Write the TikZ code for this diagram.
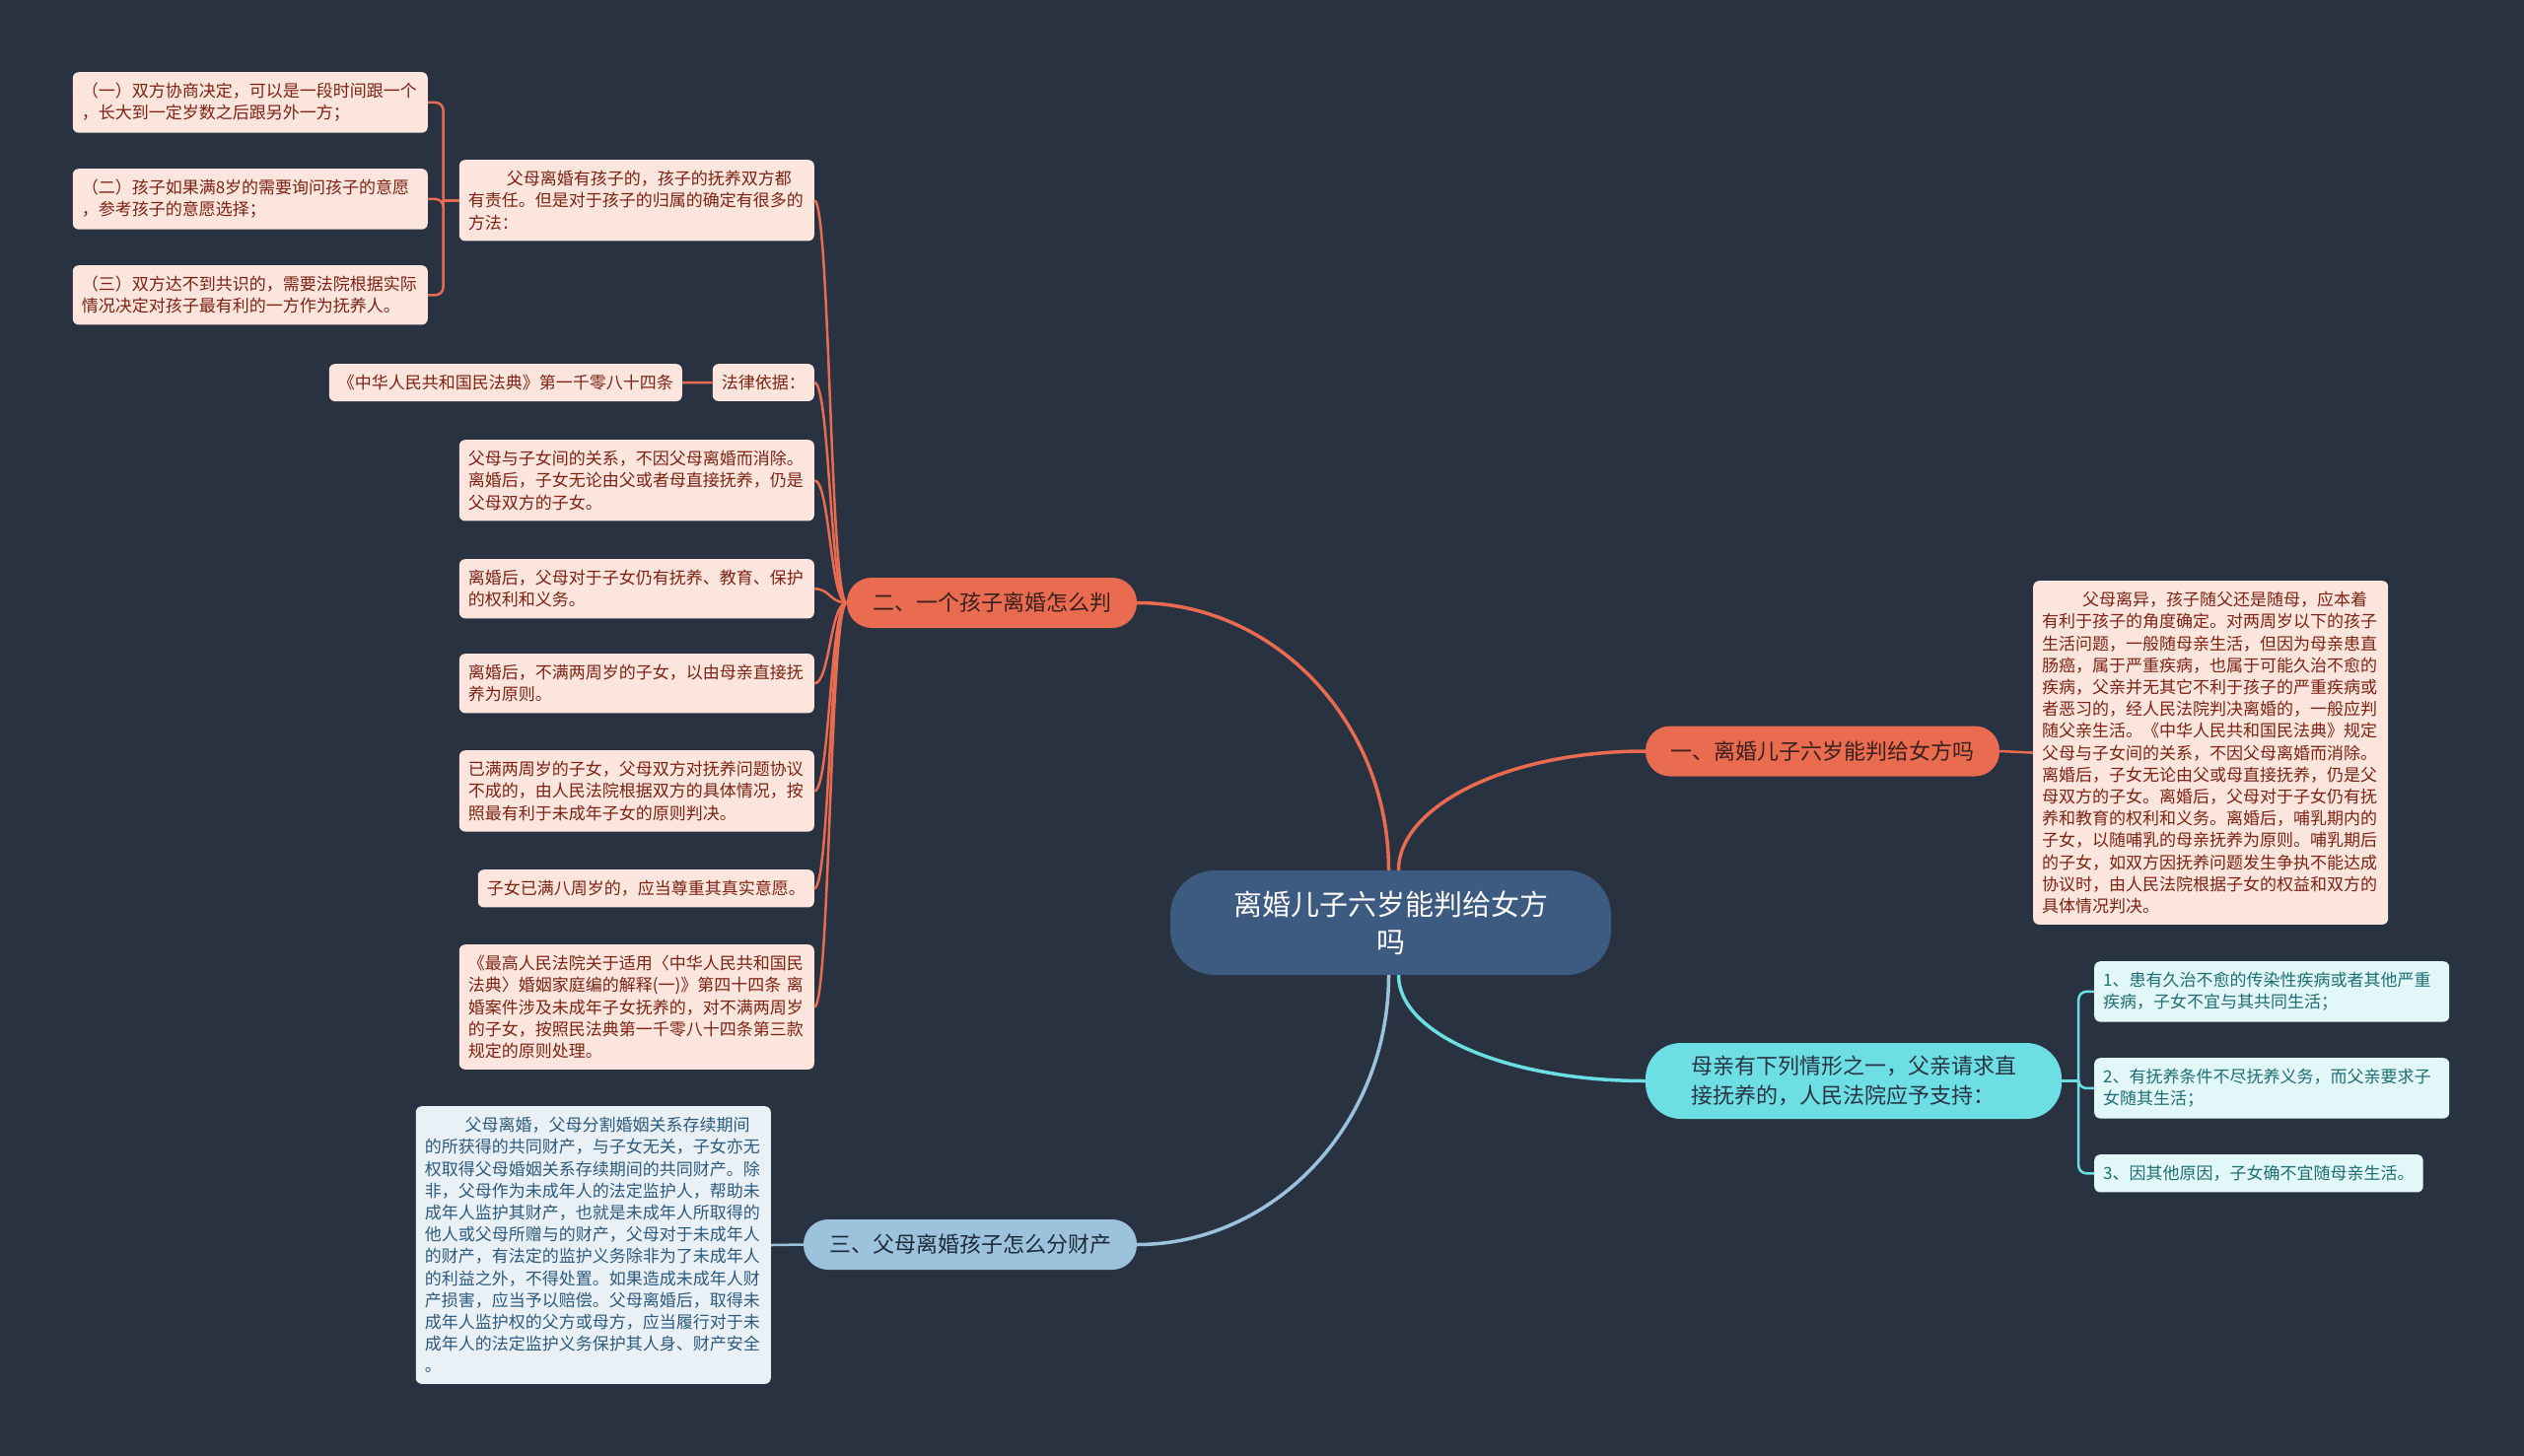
\documentclass[tikz,border=0pt]{standalone}
\usepackage{fontspec}
\setmainfont{Noto Sans CJK SC}
\definecolor{bgnavy}{RGB}{41,50,65}
\definecolor{rootblue}{RGB}{61,90,128}
\definecolor{orangeline}{RGB}{233,108,80}
\definecolor{orangetext}{RGB}{58,32,28}
\definecolor{pinkfill}{RGB}{252,229,221}
\definecolor{pinktext}{RGB}{125,35,20}
\definecolor{cyanline}{RGB}{108,222,228}
\definecolor{cyantext}{RGB}{40,52,66}
\definecolor{cyanfill}{RGB}{226,247,248}
\definecolor{tealtext}{RGB}{30,110,115}
\definecolor{blueline}{RGB}{156,195,219}
\definecolor{bluetext}{RGB}{30,42,58}
\definecolor{bluefill}{RGB}{233,241,247}
\definecolor{bluenote}{RGB}{45,90,125}

\begin{document}
\begin{tikzpicture}[x=1pt,y=-1pt,
  leaf/.style={rounded corners=6pt,inner xsep=9pt,inner ysep=11pt,align=left,font=\fontsize{17}{22.2}\selectfont},
  wide/.style={text width=342pt},
  redleaf/.style={leaf,fill=pinkfill,text=pinktext},
  cyanleaf/.style={leaf,fill=cyanfill,text=tealtext},
  blueleaf/.style={leaf,fill=bluefill,text=bluenote},
  pill/.style={rounded corners=25pt,minimum height=51pt,inner xsep=0pt,font=\fontsize{22}{28}\selectfont},
  trunk/.style={line width=3.5pt},
  twig/.style={line width=2.5pt}]
\fill[bgnavy] (0,0) rectangle (2560,1477);
\useasboundingbox (0,0) rectangle (2560,1477);

\node[fill=rootblue,text=white,rounded corners=45pt,minimum width=447pt,minimum height=106pt,align=center,font=\fontsize{29}{38}\selectfont] (root) at (1410.5,936) {离婚儿子六岁能判给女方\\吗};

\node[pill,fill=orangeline,text=orangetext,minimum width=359pt] (one) at (1848.5,762) {一、离婚儿子六岁能判给女方吗};
\node[pill,fill=orangeline,text=orangetext,minimum width=294pt] (two) at (1006,611.5) {二、一个孩子离婚怎么判};
\node[pill,fill=blueline,text=bluetext,minimum width=338pt] (three) at (984,1262.5) {三、父母离婚孩子怎么分财产};
\node[fill=cyanline,text=cyantext,rounded corners=36pt,minimum width=422pt,minimum height=77pt,align=left,font=\fontsize{22}{30}\selectfont] (mother) at (1880,1096.5) {母亲有下列情形之一，父亲请求直\\接抚养的，人民法院应予支持：};

\node[redleaf,wide,anchor=north west] (oneinfo) at (2062,589) {\hspace*{2.4em}父母离异，孩子随父还是随母，应本着\\有利于孩子的角度确定。对两周岁以下的孩子\\生活问题，一般随母亲生活，但因为母亲患直\\肠癌，属于严重疾病，也属于可能久治不愈的\\疾病，父亲并无其它不利于孩子的严重疾病或\\者恶习的，经人民法院判决离婚的，一般应判\\随父亲生活。《中华人民共和国民法典》规定\\父母与子女间的关系，不因父母离婚而消除。\\离婚后，子女无论由父或母直接抚养，仍是父\\母双方的子女。离婚后，父母对于子女仍有抚\\养和教育的权利和义务。离婚后，哺乳期内的\\子女，以随哺乳的母亲抚养为原则。哺乳期后\\的子女，如双方因抚养问题发生争执不能达成\\协议时，由人民法院根据子女的权益和双方的\\具体情况判决。};

\node[cyanleaf,wide,anchor=north west] (caseA) at (2124,975) {1、患有久治不愈的传染性疾病或者其他严重\\疾病，子女不宜与其共同生活；};
\node[cyanleaf,wide,anchor=north west] (caseB) at (2124,1073) {2、有抚养条件不尽抚养义务，而父亲要求子\\女随其生活；};
\node[cyanleaf,anchor=north west] (caseC) at (2124,1171) {3、因其他原因，子女确不宜随母亲生活。};

\node[blueleaf,wide,anchor=north east] (property) at (782,1122) {\hspace*{2.4em}父母离婚，父母分割婚姻关系存续期间\\的所获得的共同财产，与子女无关，子女亦无\\权取得父母婚姻关系存续期间的共同财产。除\\非，父母作为未成年人的法定监护人，帮助未\\成年人监护其财产，也就是未成年人所取得的\\他人或父母所赠与的财产，父母对于未成年人\\的财产，有法定的监护义务除非为了未成年人\\的利益之外，不得处置。如果造成未成年人财\\产损害，应当予以赔偿。父母离婚后，取得未\\成年人监护权的父方或母方，应当履行对于未\\成年人的法定监护义务保护其人身、财产安全\\。};

\node[redleaf,wide,anchor=north east] (ways) at (826,162) {\hspace*{2.3em}父母离婚有孩子的，孩子的抚养双方都\\有责任。但是对于孩子的归属的确定有很多的\\方法：};
\node[redleaf,wide,anchor=north east] (wayA) at (434,73) {（一）双方协商决定，可以是一段时间跟一个\\，长大到一定岁数之后跟另外一方；};
\node[redleaf,wide,anchor=north east] (wayB) at (434,171) {（二）孩子如果满8岁的需要询问孩子的意愿\\，参考孩子的意愿选择；};
\node[redleaf,wide,anchor=north east] (wayC) at (434,269) {（三）双方达不到共识的，需要法院根据实际\\情况决定对孩子最有利的一方作为抚养人。};
\node[redleaf,anchor=north east] (basis) at (826,369) {法律依据：};
\node[redleaf,anchor=north east] (code) at (692,369) {《中华人民共和国民法典》第一千零八十四条};
\node[redleaf,wide,anchor=north east] (ruleA) at (826,446) {父母与子女间的关系，不因父母离婚而消除。\\离婚后，子女无论由父或者母直接抚养，仍是\\父母双方的子女。};
\node[redleaf,wide,anchor=north east] (ruleB) at (826,567) {离婚后，父母对于子女仍有抚养、教育、保护\\的权利和义务。};
\node[redleaf,wide,anchor=north east] (ruleC) at (826,663) {离婚后，不满两周岁的子女，以由母亲直接抚\\养为原则。};
\node[redleaf,wide,anchor=north east] (ruleD) at (826,761) {已满两周岁的子女，父母双方对抚养问题协议\\不成的，由人民法院根据双方的具体情况，按\\照最有利于未成年子女的原则判决。};
\node[redleaf,anchor=north east] (ruleE) at (826,882) {子女已满八周岁的，应当尊重其真实意愿。};
\node[redleaf,wide,anchor=north east] (ruleF) at (826,958) {《最高人民法院关于适用〈中华人民共和国民\\法典〉婚姻家庭编的解释(一)》第四十四条~离\\婚案件涉及未成年子女抚养的，对不满两周岁\\的子女，按照民法典第一千零八十四条第三款\\规定的原则处理。};

\draw[trunk,orangeline] ([xshift=8pt]root.north) .. controls +(0,-65) and +(-140,0) .. (one.west);
\draw[trunk,orangeline] ([xshift=-2pt]root.north) .. controls +(0,-150) and +(140,0) .. (two.east);
\draw[trunk,cyanline] ([xshift=8pt]root.south) .. controls +(0,60) and +(-140,0) .. (mother.west);
\draw[trunk,blueline] ([xshift=-2pt]root.south) .. controls +(0,150) and +(140,0) .. (three.east);

\draw[twig,orangeline] (one.east) -- (oneinfo.west);
\draw[twig,blueline] (three.west) -- (property.east);

\coordinate (twojoin) at ([xshift=-17pt]two.west);
\foreach \n in {ways,basis,ruleA,ruleB,ruleC,ruleD,ruleE,ruleF}
  \draw[twig,orangeline] (two.west) .. controls (twojoin) and (twojoin |- \n.east) .. (\n.east);
\draw[twig,orangeline] (basis.west) -- (code.east);

\draw[twig,orangeline] (ways.west) -- ++(-16,0) coordinate (waysjoin);
\foreach \n in {wayA,wayB,wayC}
  \draw[twig,orangeline,rounded corners=8pt] (waysjoin) |- (\n.east);

\draw[twig,cyanline] (mother.east) -- ++(17,0) coordinate (motherjoin);
\foreach \n in {caseA,caseB,caseC}
  \draw[twig,cyanline,rounded corners=8pt] (motherjoin) |- (\n.west);
\end{tikzpicture}
\end{document}
